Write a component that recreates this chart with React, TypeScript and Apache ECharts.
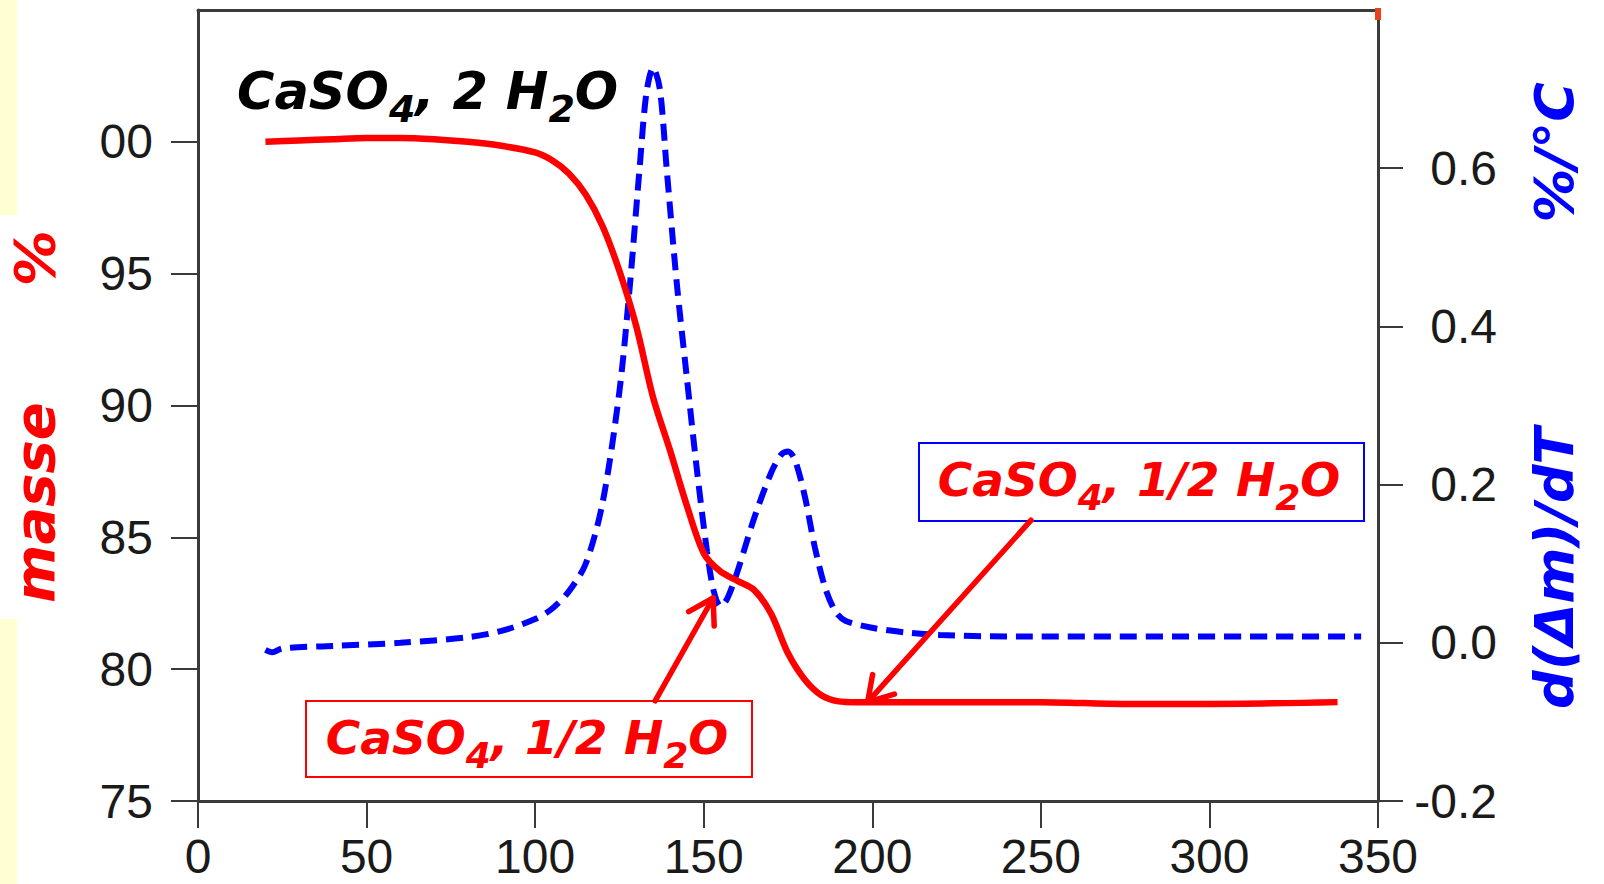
import React, { useEffect, useRef } from "react";
import * as echarts from "echarts";

// ---- Data ----
// TG curve: mass % vs temperature (°C), left axis
const massTemp = [20, 30, 40, 50, 60, 70, 80, 90, 100, 105, 110, 115, 120, 125, 130, 135, 140, 145, 150, 155, 160, 165, 170, 175, 180, 185, 190, 195, 200, 250, 275, 300, 338];
const massPct = [100.0, 100.05, 100.1, 100.15, 100.15, 100.1, 100.0, 99.85, 99.6, 99.3, 98.8, 98.0, 96.8, 95.1, 93.0, 90.3, 88.3, 86.2, 84.4, 83.7, 83.35, 83.0, 82.1, 80.6, 79.6, 79.0, 78.78, 78.75, 78.75, 78.75, 78.68, 78.68, 78.75];

// DTG curve: d(Δm)/dT (%/°C) vs temperature, right axis
const dtgTemp = [20, 22, 25, 40, 60, 80, 90, 100, 105, 110, 115, 120, 125, 128, 131, 133, 135, 137, 139, 142, 145, 148, 151, 153, 155, 157, 160, 165, 170, 173, 175, 177, 180, 183, 186, 189, 192, 200, 210, 220, 240, 345];
const dtgVal = [-0.009, -0.012, -0.007, -0.004, 0.0, 0.007, 0.015, 0.03, 0.043, 0.065, 0.1, 0.177, 0.318, 0.447, 0.601, 0.695, 0.727, 0.7, 0.6, 0.455, 0.335, 0.218, 0.115, 0.065, 0.046, 0.056, 0.09, 0.158, 0.215, 0.238, 0.242, 0.232, 0.185, 0.12, 0.07, 0.04, 0.028, 0.019, 0.013, 0.01, 0.008, 0.008];

// Axis ranges
const xRange = [0, 350];
const xStep = 50;
const massRange = [75, 105];
const massStep = 5;
const dtgRange = [-0.2, 0.8];
const dtgStep = 0.2;

// Annotation arrows in (temperature, mass %) coordinates
const arrowLow = { from: [135.6, 78.8], to: [152.8, 82.7] };
const arrowHigh = { from: [247.1, 85.65], to: [198.6, 78.75] };

// Texts
const titleParts = ["CaSO", "4", ", 2 H", "2", "O"];
const hemiParts = ["CaSO", "4", ", 1/2 H", "2", "O"];

const AXIS_COLOR = "#3a3a3a";
const TICK_FONT = "'Liberation Sans', Arial, Helvetica, sans-serif";
const HAND_FONT = "'DejaVu Sans', 'Noto Sans', sans-serif";

function richString(parts: string[]) {
  return parts.map((p, i) => (i % 2 === 1 ? `{s|${p}}` : `{m|${p}}`)).join("");
}

function buildOption() {
  const handText = { fontFamily: HAND_FONT, fontWeight: "bold", fontStyle: "italic" } as any;
  return {
    animation: false,
    backgroundColor: "#ffffff",
    grid: { left: 198, right: 226, top: 10, bottom: 83, containLabel: false, outerBoundsMode: "none" },
    xAxis: [
      {
        type: "value",
        min: xRange[0],
        max: xRange[1],
        interval: xStep,
        position: "bottom",
        axisLine: { show: true, onZero: false, lineStyle: { color: AXIS_COLOR, width: 3 } },
        axisTick: { show: true, length: 27, lineStyle: { color: AXIS_COLOR, width: 2 } },
        axisLabel: { fontSize: 48, fontFamily: TICK_FONT, color: "#1a1a1a", margin: 31, showMinLabel: true, showMaxLabel: true },
        splitLine: { show: false },
      },
      {
        type: "value",
        min: xRange[0],
        max: xRange[1],
        position: "top",
        axisLine: { show: true, onZero: false, lineStyle: { color: AXIS_COLOR, width: 3 } },
        axisTick: { show: false },
        axisLabel: { show: false },
        splitLine: { show: false },
      },
    ],
    yAxis: [
      {
        type: "value",
        min: massRange[0],
        max: massRange[1],
        interval: massStep,
        position: "left",
        axisLine: { show: true, onZero: false, lineStyle: { color: AXIS_COLOR, width: 3 } },
        axisTick: { show: true, length: 27, lineStyle: { color: AXIS_COLOR, width: 2 } },
        axisLabel: {
          fontSize: 48,
          fontFamily: TICK_FONT,
          color: "#1a1a1a",
          margin: 45,
          showMaxLabel: false,
          formatter: (v: number) => (v === 100 ? "00" : String(v)),
        },
        splitLine: { show: false },
        name: "{m|masse}{g|}{m|%}{e|}",
        nameLocation: "middle",
        nameRotate: 90,
        nameGap: 134,
        nameMoveOverlap: false,
        nameTextStyle: {
          color: "#ff0000",
          fontSize: 56,
          ...handText,
          rich: {
            m: { color: "#ff0000", fontSize: 56, lineHeight: 60, ...handText },
            g: { width: 116 },
            e: { width: 22 },
          },
        },
      },
      {
        type: "value",
        min: dtgRange[0],
        max: dtgRange[1],
        interval: dtgStep,
        position: "right",
        axisLine: { show: true, onZero: false, lineStyle: { color: AXIS_COLOR, width: 3 } },
        axisTick: { show: true, length: 25, lineStyle: { color: AXIS_COLOR, width: 2 } },
        axisLabel: {
          fontSize: 48,
          fontFamily: TICK_FONT,
          color: "#1a1a1a",
          margin: 119,
          align: "right",
          showMaxLabel: false,
          formatter: (v: number) => v.toFixed(1),
        },
        splitLine: { show: false },
        name: "{b|}{m|d(Δm)/dT}{g|}{m|%/°C}",
        nameLocation: "middle",
        nameRotate: 90,
        nameGap: 146,
        nameMoveOverlap: false,
        nameTextStyle: {
          color: "#0000ff",
          fontSize: 54,
          ...handText,
          rich: {
            m: { color: "#0000ff", fontSize: 54, lineHeight: 60, ...handText },
            g: { width: 205 },
            b: { width: 20 },
          },
        },
      },
    ],
    series: [
      {
        name: "d(Δm)/dT",
        type: "line",
        xAxisIndex: 0,
        yAxisIndex: 1,
        data: dtgTemp.map((t, i) => [t, dtgVal[i]]),
        showSymbol: false,
        smooth: 0.3,
        lineStyle: { color: "#0000ff", width: 6, type: [17, 9] },
        z: 2,
      },
      {
        name: "masse",
        type: "line",
        xAxisIndex: 0,
        yAxisIndex: 0,
        data: massTemp.map((t, i) => [t, massPct[i]]),
        showSymbol: false,
        smooth: 0.3,
        lineStyle: { color: "#ff0000", width: 6.5 },
        z: 3,
      },
    ],
  };
}

export default function App() {
  const ref = useRef<HTMLDivElement>(null);

  useEffect(() => {
    const el = ref.current;
    if (!el) return;
    const chart = echarts.init(el, null, { renderer: "svg" });
    chart.setOption(buildOption() as any);

    const toPx = (p: number[]) => chart.convertToPixel({ xAxisIndex: 0, yAxisIndex: 0 }, p) as number[];

    const arrowEls = (from: number[], to: number[], color: string) => {
      const a = toPx(from);
      const b = toPx(to);
      const ang = Math.atan2(b[1] - a[1], b[0] - a[0]);
      const len = 28;
      const spread = 0.55;
      const p1 = [b[0] - len * Math.cos(ang - spread), b[1] - len * Math.sin(ang - spread)];
      const p2 = [b[0] - len * Math.cos(ang + spread), b[1] - len * Math.sin(ang + spread)];
      return [
        { type: "line", z: 100, silent: true, shape: { x1: a[0], y1: a[1], x2: b[0], y2: b[1] }, style: { stroke: color, lineWidth: 5.5, lineCap: "round" } },
        { type: "polyline", z: 100, silent: true, shape: { points: [p1, b, p2] }, style: { stroke: color, lineWidth: 5.5, fill: "none", lineCap: "round", lineJoin: "round" } },
      ];
    };

    const tokenMain = (size: number, color: string) => ({
      fill: color, fontSize: size, fontFamily: HAND_FONT, fontWeight: "bold", fontStyle: "italic", lineHeight: 60, verticalAlign: "middle",
    });
    const tokenSub = (size: number, color: string, pad: number) => ({
      fill: color, fontSize: size, fontFamily: HAND_FONT, fontWeight: "bold", fontStyle: "italic", lineHeight: 60, verticalAlign: "top", padding: [pad, 0, 0, 0],
    });

    const yellow = "#FFFFD2";
    const graphics: any[] = [
      { type: "rect", z: -1, silent: true, shape: { x: 0, y: 0, width: 17, height: 215 }, style: { fill: yellow } },
      { type: "rect", z: -1, silent: true, shape: { x: 0, y: 619, width: 17, height: 265 }, style: { fill: yellow } },
      { type: "rect", z: 50, silent: true, shape: { x: 1375, y: 8, width: 6, height: 12 }, style: { fill: "#e8401c" } },
      // title
      {
        type: "text", z: 100, silent: true, x: 237, y: 61,
        style: {
          text: richString(titleParts), align: "left", verticalAlign: "top", fill: "#000",
          fontSize: 51, fontFamily: HAND_FONT, fontWeight: "bold", fontStyle: "italic",
          rich: { m: tokenMain(51, "#000"), s: tokenSub(38, "#000", 28.5) },
        },
      },
      // upper box (blue border)
      { type: "rect", z: 100, silent: true, shape: { x: 919, y: 443, width: 445, height: 78 }, style: { fill: "#fff", stroke: "#0000ff", lineWidth: 2 } },
      {
        type: "text", z: 101, silent: true, x: 1139, y: 449,
        style: {
          text: richString(hemiParts), align: "center", verticalAlign: "top", fill: "#ff0000",
          fontSize: 47, fontFamily: HAND_FONT, fontWeight: "bold", fontStyle: "italic",
          rich: { m: tokenMain(47, "#ff0000"), s: tokenSub(36, "#ff0000", 30.8) },
        },
      },
      // lower box (red border)
      { type: "rect", z: 100, silent: true, shape: { x: 306, y: 701, width: 446, height: 76 }, style: { fill: "#fff", stroke: "#ff0000", lineWidth: 2 } },
      {
        type: "text", z: 101, silent: true, x: 527, y: 707,
        style: {
          text: richString(hemiParts), align: "center", verticalAlign: "top", fill: "#ff0000",
          fontSize: 47, fontFamily: HAND_FONT, fontWeight: "bold", fontStyle: "italic",
          rich: { m: tokenMain(47, "#ff0000"), s: tokenSub(36, "#ff0000", 30.8) },
        },
      },
      ...arrowEls(arrowLow.from, arrowLow.to, "#ff0000"),
      ...arrowEls(arrowHigh.from, arrowHigh.to, "#ff0000"),
    ];
    chart.setOption({ graphic: graphics } as any);

    return () => chart.dispose();
  }, []);

  return (
    <div
      ref={ref}
      style={{ position: "fixed", left: 0, top: 0, width: 1604, height: 884, background: "#fff" }}
    />
  );
}
